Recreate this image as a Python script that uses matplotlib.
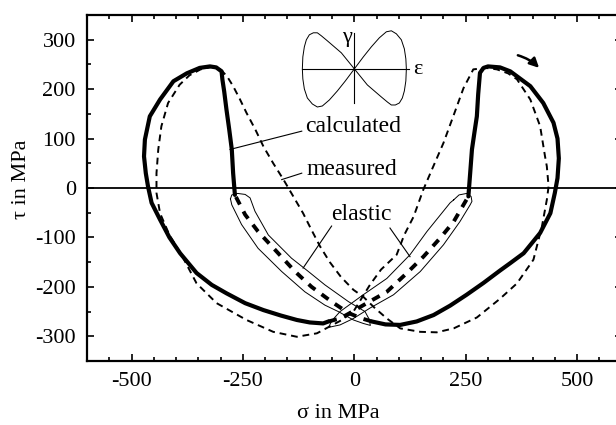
import matplotlib
matplotlib.use('Agg')
import matplotlib.pyplot as plt
from matplotlib.ticker import MultipleLocator

plt.rcParams['font.family'] = ['Liberation Serif', 'DejaVu Serif']
plt.rcParams['axes.unicode_minus'] = False
plt.rcParams['font.size'] = 16

# calculated path (thick solid), right lobe and left lobe
calc_right_x = [256, 260, 264, 270, 275, 278, 282, 290, 300, 327, 350, 365, 395, 424, 447, 456,
                459, 456, 450, 440, 417, 380, 350, 327, 290, 252, 215, 178, 140, 103, 70, 39]
calc_right_y = [-17, 30, 78, 115, 145, 190, 233, 243, 246, 244, 236, 226, 206, 172, 132, 100,
                60, 20, -10, -51, -91, -132, -152, -167, -192, -216, -238, -257, -270, -277, -276, -270]
calc_left_x = [-268, -272, -275, -281, -287, -292, -296, -298, -310, -324, -347, -376, -406, -436,
               -459, -470, -472, -468, -463, -455, -436, -415, -391, -354, -320, -287, -245, -204,
               -165, -129, -100, -70, -58]
calc_left_y = [-14, 30, 78, 120, 159, 195, 219, 236, 244, 246, 243, 232, 216, 179,
               145, 98, 64, 30, 3, -30, -64, -100, -132, -172, -196, -213, -233, -247,
               -258, -267, -272, -274, -270]

# elastic parts of the calculated path (thick dashed)
el_a_x = [39, 17, -13, -51, -96, -133, -178, -216, -245, -268]
el_a_y = [-270, -264, -253, -230, -200, -169, -125, -88, -54, -14]
el_b_x = [-58, -32, -10, 28, 73, 118, 155, 193, 223, 245, 256]
el_b_y = [-270, -264, -253, -233, -210, -172, -139, -101, -68, -34, -17]

# thin envelopes around the elastic parts
band_a_x = [-278, -275, -262, -245, -234, -223, -193, -141, -103, -66, -13, 24, 33, 36,
            20, -2, -36, -66, -111, -163, -216, -253, -275, -278]
band_a_y = [-22, -14, -11, -13, -20, -47, -95, -142, -169, -196, -230, -250, -265, -278,
            -274, -267, -250, -237, -210, -169, -122, -74, -34, -22]
band_b_x = [223, 235, 252, 262, 264, 260, 237, 200, 148, 88, 35, -2, -32, -58,
            -50, -32, 20, 73, 125, 163, 215, 223]
band_b_y = [-24, -14, -11, -17, -27, -34, -68, -115, -169, -216, -243, -264, -277, -282,
            -268, -250, -216, -183, -135, -88, -30, -24]

# measured (thin dashed)
meas_x = [-300, -285, -272, -257, -242, -222, -204, -182, -159, -137, -115, -96, -77, -55, -30,
          -2, 20, 45, 73, 103, 148, 185, 223, 275, 327, 365, 402, 421, 432, 436, 432, 428,
          417, 395, 365, 345, 320, 295, 267, 245, 222, 200, 174, 155, 133, 112, 95, 60, 35,
          -2, -30, -55, -84, -129, -182, -242, -309, -354, -388, -415, -436, -444, -444, -440,
          -433, -418, -392, -370, -345, -320, -300]
meas_y = [240, 225, 206, 180, 152, 118, 84, 50, 17, -17, -51, -85, -118, -150, -180,
          -206, -220, -242, -264, -284, -291, -292, -284, -262, -224, -193, -145, -78, -24, 3, 44, 64,
          125, 179, 220, 232, 240, 243, 240, 202, 145, 91, 37, -3, -58, -95, -135, -165, -196,
          -250, -268, -280, -294, -301, -291, -267, -233, -193, -135, -95, -51, -10, 30, 78,
          125, 172, 209, 228, 240, 245, 240]

# small strain-path inset (offsets from its centre)
lobe_x = [0, -13, -27, -33, -37, -41, -45, -48, -50, -51.5, -52, -51.5, -50, -47, -42, -37, -32,
          -25, -17, -9, 0,
          9, 17, 25, 32, 37, 42, 47, 50, 51.5, 52, 51.5, 50, 48, 45, 41, 37, 33, 27, 13, 0]
lobe_y = [0, 16, 28, 33, 36, 36, 34, 29, 22, 12, 0, -10, -20, -29, -35, -38, -37,
          -31, -22, -12, 0,
          12, 22, 31, 37, 38, 35, 29, 20, 10, 0, -12, -22, -29, -34, -36, -36, -33, -28, -16, 0]

# leader lines
lead_calc_x = [-279, -118]
lead_calc_y = [78, 115]
lead_meas_x = [-163, -118]
lead_meas_y = [17, 30]
lead_el1_x = [-51, -115]
lead_el1_y = [-77, -162]
lead_el2_x = [80, 125]
lead_el2_y = [-81, -139]

fig = plt.figure(figsize=(6.16, 4.25), dpi=100)
ax = fig.add_axes([0.1412, 0.1506, 0.868, 0.8141])

ax.axhline(0, color='black', lw=1.3)
ax.plot(meas_x, meas_y, color='black', lw=1.4, ls=(0, (3.5, 2.5)))
ax.plot(calc_right_x, calc_right_y, color='black', lw=3.0, solid_capstyle='round')
ax.plot(calc_left_x, calc_left_y, color='black', lw=3.0, solid_capstyle='round')
ax.plot(el_a_x, el_a_y, color='black', lw=2.8, ls=(0, (2.2, 2.0)))
ax.plot(el_b_x, el_b_y, color='black', lw=2.8, ls=(0, (2.2, 2.0)))
ax.plot(band_a_x, band_a_y, color='black', lw=0.7)
ax.plot(band_b_x, band_b_y, color='black', lw=0.7)

for lx, ly in [(lead_calc_x, lead_calc_y), (lead_meas_x, lead_meas_y),
               (lead_el1_x, lead_el1_y), (lead_el2_x, lead_el2_y)]:
    ax.plot(lx, ly, color='black', lw=0.8)

ax.text(-3, 124, 'calculated', ha='center', va='center', fontsize=17)
ax.text(-5, 37, 'measured', ha='center', va='center', fontsize=17)
ax.text(15, -54, 'elastic', ha='center', va='center', fontsize=17)

ax.annotate('', xy=(419, 239), xytext=(361, 270),
            arrowprops=dict(arrowstyle='-|>', connectionstyle='arc3,rad=-0.15',
                            lw=1.8, color='black', mutation_scale=14))

# inset
ins = ax.inset_axes([-118, 172, 241.5, 142], transform=ax.transData)
ins.set_xlim(-52.6, 55)
ins.set_ylim(-34, 36)
ins.axis('off')
ins.plot(lobe_x, lobe_y, color='black', lw=0.7, clip_on=False)
ins.plot([-52.6, 55], [0, 0], color='black', lw=0.8, clip_on=False)
ins.plot([0, 0], [-34, 36], color='black', lw=0.8, clip_on=False)
ax.text(-16, 305, 'γ', ha='center', va='center', fontsize=16)
ax.text(143, 240, 'ε', ha='center', va='center', fontsize=16)

ax.set_xlim(-600, 600)
ax.set_ylim(-350, 350)
ax.xaxis.set_major_locator(MultipleLocator(250))
ax.xaxis.set_minor_locator(MultipleLocator(50))
ax.yaxis.set_major_locator(MultipleLocator(100))
ax.yaxis.set_minor_locator(MultipleLocator(50))
ax.tick_params(which='both', direction='in', top=True, right=True, width=1.2)
ax.tick_params(which='major', length=5, pad=8)
ax.tick_params(which='minor', length=3)
for s in ax.spines.values():
    s.set_linewidth(1.6)

ax.set_xlabel('σ in MPa', fontsize=16)
ax.set_ylabel('τ in MPa', fontsize=16)
ax.xaxis.set_label_coords(0.47, -0.125)
ax.yaxis.set_label_coords(-0.105, 0.525)

fig.savefig('out.png', dpi=100)
